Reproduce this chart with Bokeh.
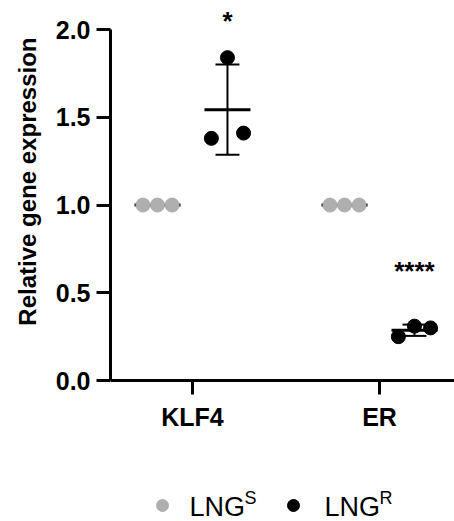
import numpy as np
from bokeh.plotting import figure
from bokeh.models import Range1d, FixedTicker, NumeralTickFormatter, Title
from bokeh.embed import file_html
from bokeh.resources import INLINE
from bokeh.core.properties import value

# ---------------- data ----------------
categories = ["KLF4", "ER"]
group_names = ["LNG", "LNG"]
group_sup = ["S", "R"]
lngs_values = [[1.0, 1.0, 1.0], [1.0, 1.0, 1.0]]          # LNG^S per gene
lngr_values = [[1.38, 1.84, 1.41], [0.25, 0.31, 0.30]]    # LNG^R per gene
significance = ["", "*", "", "****"]
sig_y = [None, 2.05, None, 0.625]
y_ticks = [0.0, 0.5, 1.0, 1.5, 2.0]
y_title = "Relative gene expression"

# ---------------- style / layout ----------------
FONT = "Liberation Sans"
GRAY = "#afafaf"
BLACK = "#000000"
GROUP_OFFSET = [-0.187, 0.187]
JITTER = [[-0.078, 0.0, 0.078], [-0.086, 0.0, 0.086]]
MEAN_HALF = 0.123
CAP_HALF = 0.064
colors = [GRAY, BLACK]

W, H = 454, 521
LEFT, TOP = 110, 8
PX_PER_Y = 175.5
PX_PER_X = 187.0
Y_TOP = 2.12
Y_BOTTOM = Y_TOP - (H - TOP) / PX_PER_Y
X_START = 1 - (192 - LEFT) / PX_PER_X
X_END = X_START + (W - LEFT) / PX_PER_X


def lx(px):   # legend layout helper: page pixel -> x data
    return X_START + (px - LEFT) / PX_PER_X


def ly(py):   # page pixel -> y data
    return Y_TOP - (py - TOP) / PX_PER_Y


p = figure(width=W, height=H, output_backend="svg", toolbar_location=None,
           x_range=Range1d(X_START, X_END), y_range=Range1d(Y_BOTTOM, Y_TOP),
           min_border_left=LEFT, min_border_right=0, min_border_top=TOP,
           min_border_bottom=0)
p.outline_line_color = None
p.grid.visible = False
p.background_fill_color = "white"
p.border_fill_color = "white"

series = [lngs_values, lngr_values]
k = 0
for ci, cat in enumerate(categories):
    for gi in range(2):
        vals = np.array(series[gi][ci])
        xc = ci + 1 + GROUP_OFFSET[gi]
        m = vals.mean()
        sd = vals.std(ddof=1)
        p.segment(x0=[xc - MEAN_HALF], y0=[m], x1=[xc + MEAN_HALF], y1=[m],
                  line_color=BLACK, line_width=3)
        p.segment(x0=[xc], y0=[m - sd], x1=[xc], y1=[m + sd],
                  line_color=BLACK, line_width=2)
        p.segment(x0=[xc - CAP_HALF, xc - CAP_HALF], y0=[m - sd, m + sd],
                  x1=[xc + CAP_HALF, xc + CAP_HALF], y1=[m - sd, m + sd],
                  line_color=BLACK, line_width=2)
        xs = [xc + j for j in JITTER[gi]]
        p.scatter(x=xs, y=list(vals), size=14, marker="circle",
                  fill_color=colors[gi], line_color=colors[gi])
        if significance[k]:
            p.text(x=[xc], y=[sig_y[k]], text=[significance[k]],
                   text_font=value(FONT), text_font_style="bold",
                   text_font_size=value("26px"), text_align="center",
                   text_baseline="middle", text_color=BLACK)
        k += 1

# axes
yax = p.yaxis[0]
yax.ticker = FixedTicker(ticks=y_ticks)
yax.formatter = NumeralTickFormatter(format="0.0")
yax.bounds = (0, 2)
yax.major_label_text_font = FONT
yax.major_label_text_font_style = "bold"
yax.major_label_text_font_size = "25px"
yax.major_label_standoff = 6
yax.minor_tick_line_color = None

xax = p.xaxis[0]
xax.fixed_location = 0
xax.ticker = FixedTicker(ticks=[1, 2])
xax.major_label_overrides = {1: categories[0], 2: categories[1]}
xax.major_label_text_font = FONT
xax.major_label_text_font_style = "bold"
xax.major_label_text_font_size = "25px"
xax.major_label_standoff = 8
xax.minor_tick_line_color = None

for ax in (xax, yax):
    ax.axis_line_width = 3
    ax.axis_line_color = BLACK
    ax.major_tick_line_width = 3
    ax.major_tick_line_color = BLACK
    ax.major_tick_out = 14
    ax.major_tick_in = 0
    ax.major_label_text_color = BLACK

# y-axis title, anchored to the top of the axis span
p.add_layout(Title(text=y_title, align="right", offset=29,
                   text_font=FONT, text_font_style="bold",
                   text_font_size="24px", text_color=BLACK,
                   vertical_align="middle", standoff=22), "left")

# ---------------- legend (drawn in the plot below the axis) ----------------
dot_x = [lx(162), lx(293)]
name_x = [lx(189), lx(324)]
sup_x = [lx(244), lx(379)]
p.scatter(x=dot_x, y=[ly(505)] * 2, size=12, marker="circle",
          fill_color=colors, line_color=colors)
p.text(x=name_x, y=[ly(506)] * 2, text=group_names, text_font=value(FONT),
       text_font_size=value("27px"), text_align="left",
       text_baseline="middle", text_color=BLACK)
p.text(x=sup_x, y=[ly(497)] * 2, text=group_sup, text_font=value(FONT),
       text_font_size=value("18px"), text_align="left",
       text_baseline="middle", text_color=BLACK)

open("out.html", "w").write(file_html(p, INLINE))
